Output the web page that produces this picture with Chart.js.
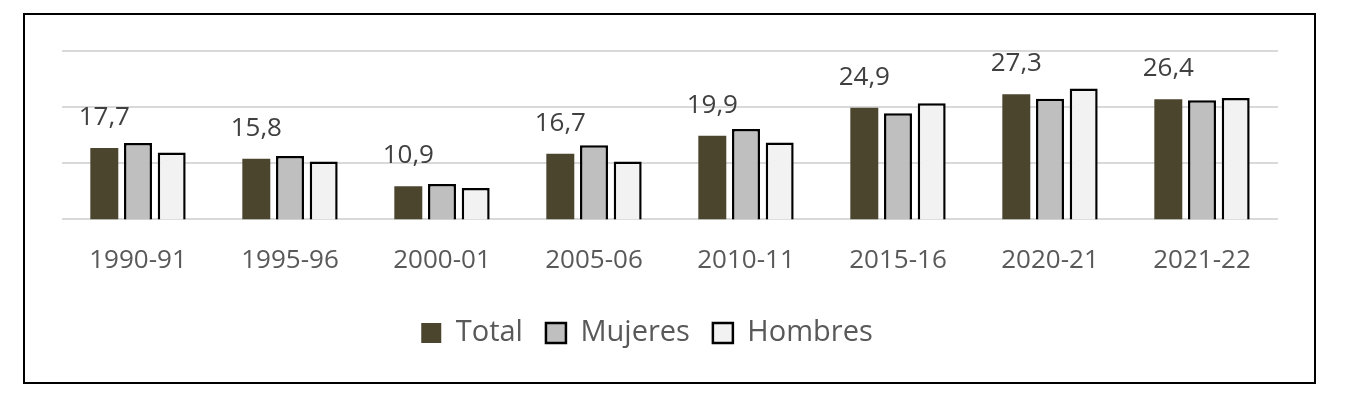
<!DOCTYPE html>
<html>
<head>
<meta charset="utf-8">
<script src="https://cdn.jsdelivr.net/npm/chart.js@4/dist/chart.umd.min.js"></script>
<style>
  body { margin: 0; background: #fff; }
  #frame {
    position: absolute; left: 23px; top: 13px;
    width: 1293px; height: 371px;
    box-sizing: border-box; border: 2px solid #000;
  }
  #chart { display: block; }
</style>
</head>
<body>
<div id="frame"><canvas id="chart" width="1289" height="367"></canvas></div>
<script>
const categories = ["1990-91", "1995-96", "2000-01", "2005-06", "2010-11", "2015-16", "2020-21", "2021-22"];
const total = [17.7, 15.8, 10.9, 16.7, 19.9, 24.9, 27.3, 26.4];
const mujeres = [18.6, 16.3, 11.3, 18.2, 21.1, 23.9, 26.5, 26.2];
const hombres = [16.9, 15.3, 10.6, 15.3, 18.7, 25.7, 28.3, 26.6];
const seriesNames = ["Total", "Mujeres", "Hombres"];

// etiquetas sobre las barras de Total
const totalLabels = {
    id: "totalLabels",
    afterDatasetsDraw(chart) {
        const ctx = chart.ctx;
        const meta = chart.getDatasetMeta(0);
        ctx.save();
        ctx.font = "26px 'Open Sans'";
        ctx.fillStyle = "#404040";
        ctx.textAlign = "center";
        ctx.textBaseline = "alphabetic";
        meta.data.forEach((bar, i) => {
            const txt = total[i].toFixed(1).replace(".", ",");
            ctx.fillText(txt, bar.x, bar.y - 23);
        });
        ctx.restore();
    }
};

// la leyenda del original esta algo desplazada a la izquierda
const legendShift = {
    id: "legendShift",
    afterLayout(chart) {
        chart.legend.left -= 23;
        chart.legend.right -= 23;
    }
};

const ctx = document.getElementById("chart").getContext("2d");
new Chart(ctx, {
    type: "bar",
    data: {
        labels: categories,
        datasets: [
            { label: seriesNames[0], data: total, backgroundColor: "#4B452E", borderWidth: 0 },
            { label: seriesNames[1], data: mujeres, backgroundColor: "#BFBFBF", borderColor: "#000", borderWidth: 2.5 },
            { label: seriesNames[2], data: hombres, backgroundColor: "#F2F2F2", borderColor: "#000", borderWidth: 2.5 }
        ]
    },
    options: {
        responsive: false,
        animation: false,
        categoryPercentage: 0.665,
        barPercentage: 0.83,
        layout: { padding: { left: 37, right: 36, top: 36, bottom: 24.5 } },
        plugins: {
            tooltip: { enabled: false },
            legend: {
                position: "bottom",
                labels: {
                    boxWidth: 20,
                    boxHeight: 20,
                    padding: 23,
                    color: "#595959",
                    font: { family: "'Open Sans'", size: 29 }
                }
            }
        },
        scales: {
            x: {
                grid: { display: false },
                border: { display: false },
                ticks: { color: "#595959", padding: 18, font: { family: "'Open Sans'", size: 26 } },
                afterFit: s => { s.height += 1; }
            },
            y: {
                min: 5,
                max: 35,
                ticks: { display: false, stepSize: 10 },
                border: { display: false },
                grid: { color: "#D9D9D9", lineWidth: 2, drawTicks: false }
            }
        }
    },
    plugins: [totalLabels, legendShift]
});
</script>
</body>
</html>
